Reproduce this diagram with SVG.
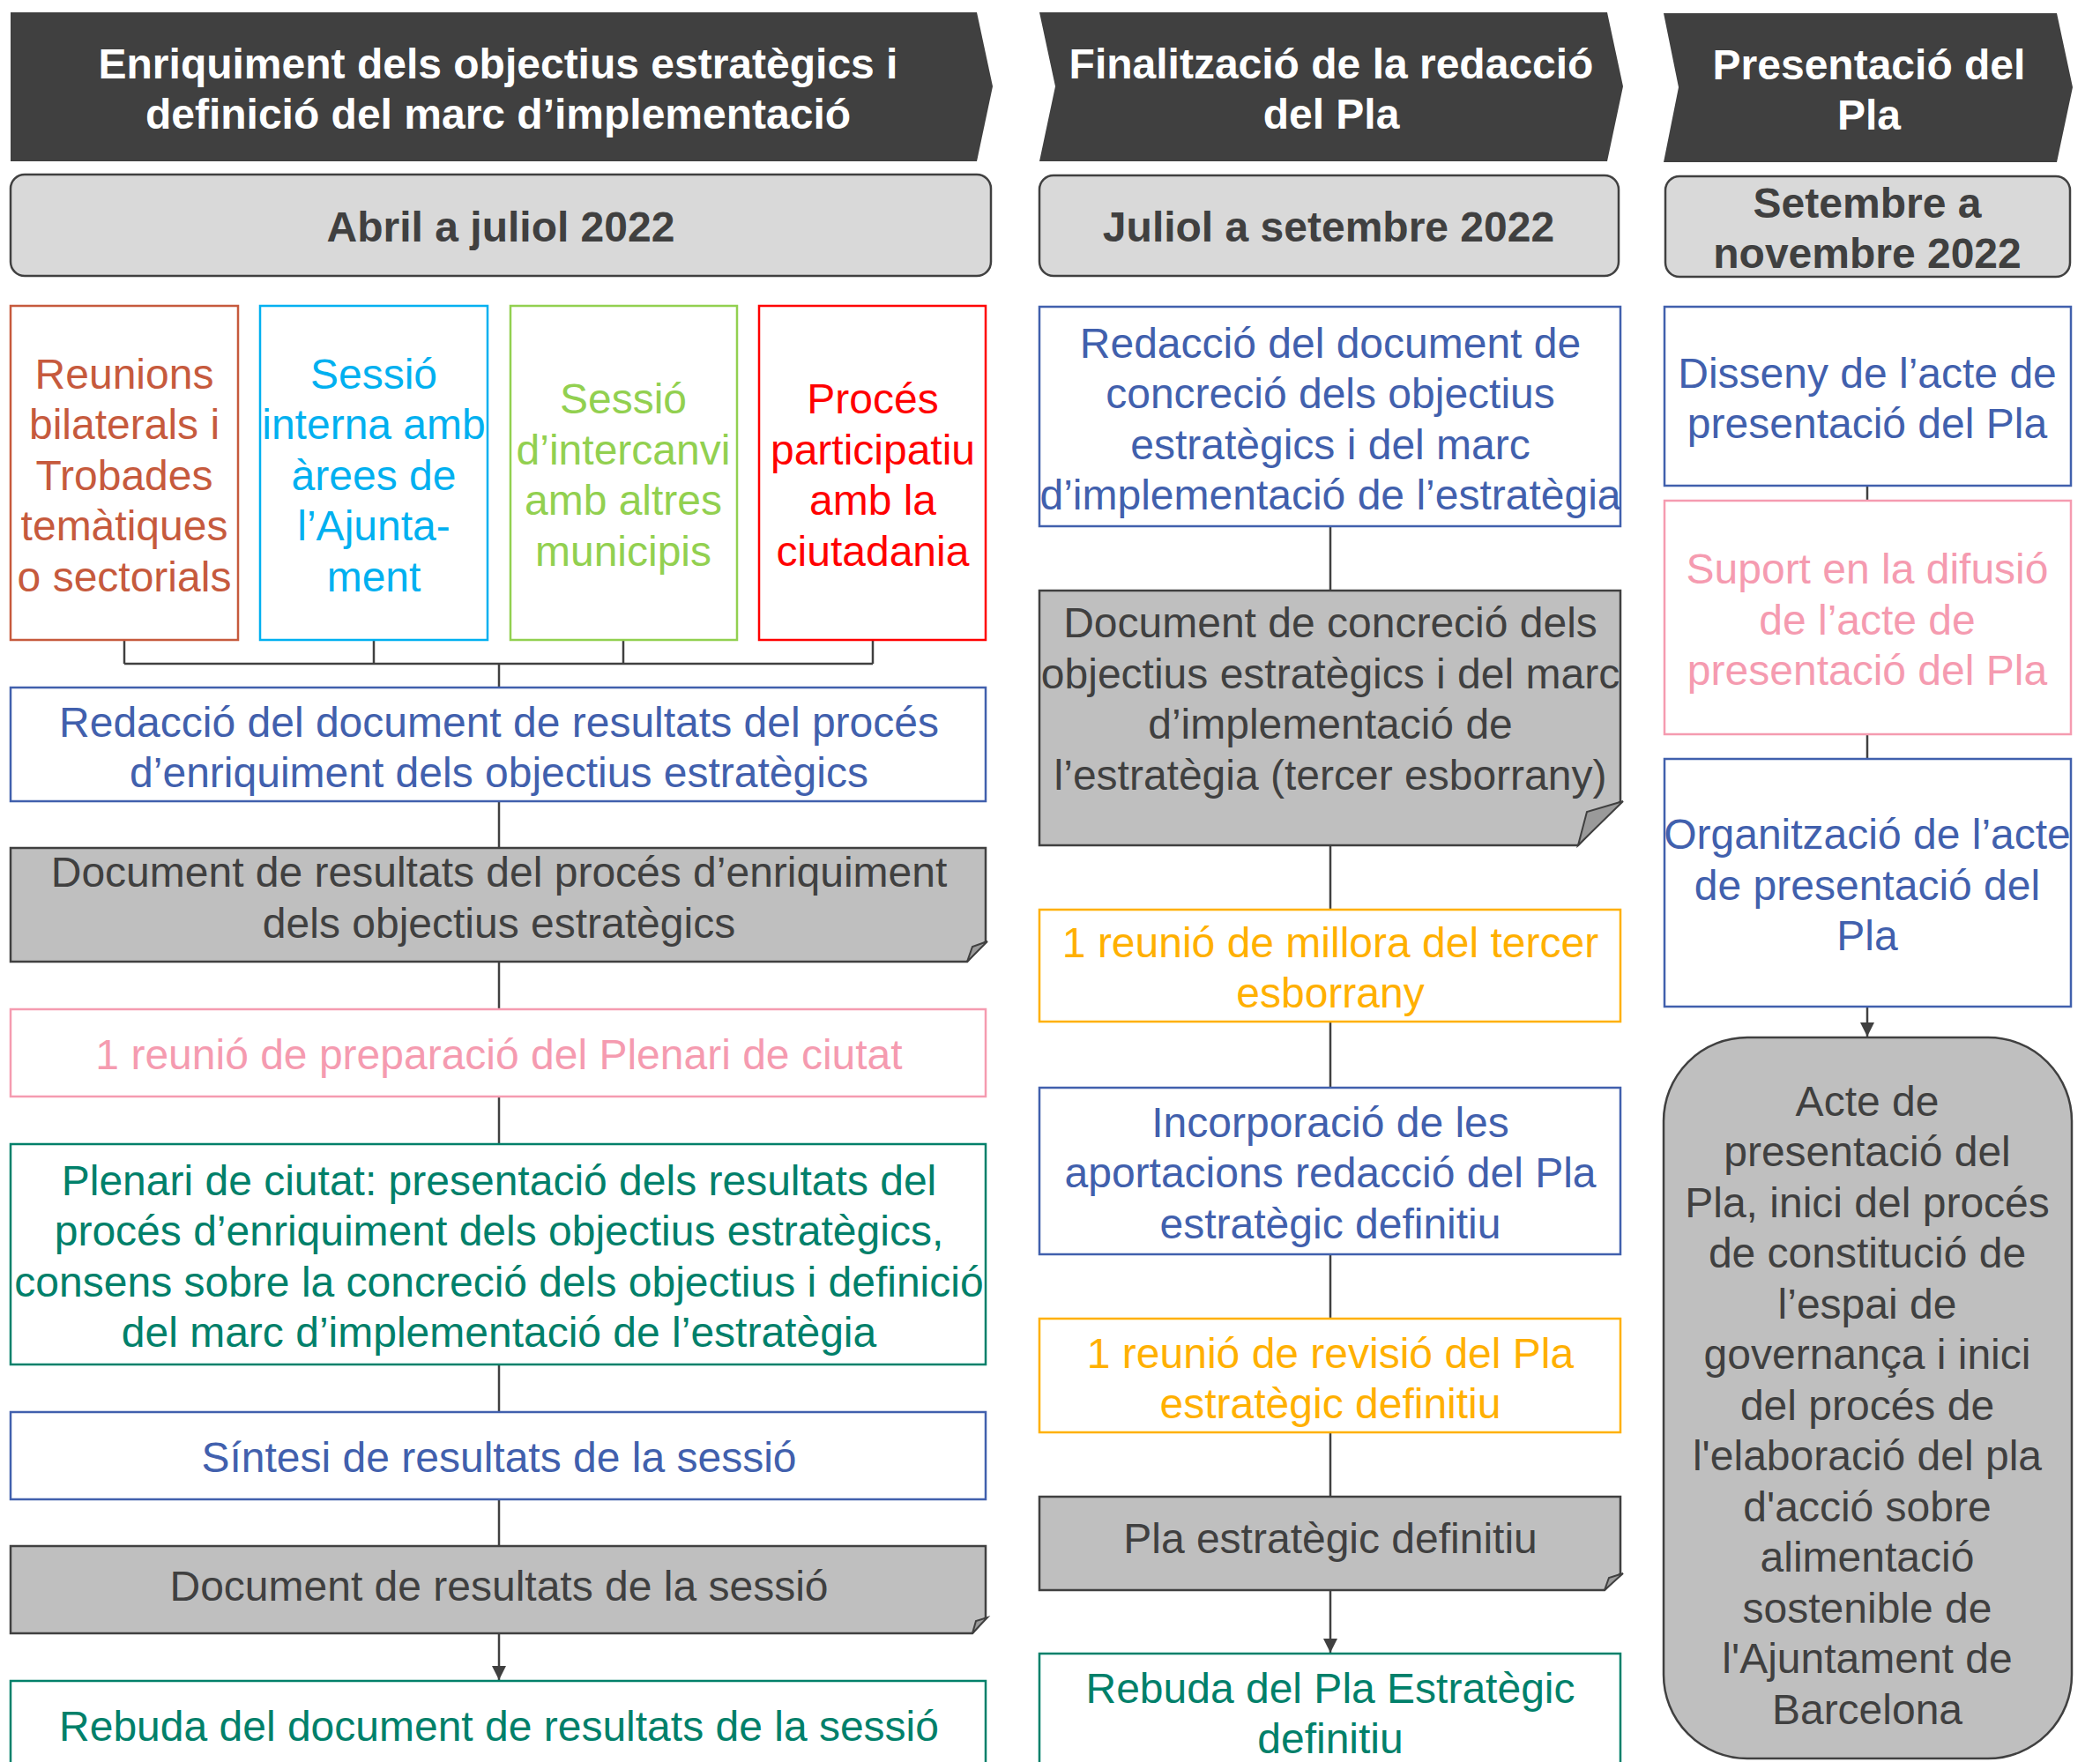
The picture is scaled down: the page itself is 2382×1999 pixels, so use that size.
<svg xmlns="http://www.w3.org/2000/svg" width="2382" height="1999" viewBox="0 0 2382 1999">
<style>
.t{font-family:"Liberation Sans",Arial,sans-serif;font-size:48px;text-anchor:middle;transform:translate(0px,2px)}
.b{font-weight:bold}
.w{fill:#FFFFFF}
.g{fill:#404040}
.hd{fill:#404040}
.date{fill:#D9D9D9;stroke:#404040;stroke-width:2.5}
.doc{fill:#BFBFBF;stroke:#404040;stroke-width:2.5}
.fold{fill:#9A9A9A;stroke:#404040;stroke-width:2}
.box{fill:#FFFFFF;stroke-width:2.5}
.c1{stroke:#C65A3D}.f1{fill:#C65A3D}
.c2{stroke:#00B0F0}.f2{fill:#00B0F0}
.c3{stroke:#92D050}.f3{fill:#92D050}
.c4{stroke:#FF0000}.f4{fill:#FF0000}
.cb{stroke:#4160AD}.fb{fill:#4160AD}
.cp{stroke:#F59BB0}.fp{fill:#F59BB0}
.ct{stroke:#00806A}.ft{fill:#00806A}
.co{stroke:#FFB000}.fo{fill:#FFB000}
.conn line,.conn path{stroke:#404040;stroke-width:2.5;fill:none}
</style>
<defs>
<marker id="arr" markerUnits="userSpaceOnUse" markerWidth="18" markerHeight="18" refX="16" refY="8" orient="auto">
<path d="M0,0 L16,8 L0,16 Z" fill="#404040"/>
</marker>
</defs>
<rect width="2382" height="1999" fill="#FFFFFF"/>

<g class="conn" id="connectors">
<line x1="141" y1="726" x2="141" y2="753"/>
<line x1="424" y1="726" x2="424" y2="753"/>
<line x1="707" y1="726" x2="707" y2="753"/>
<line x1="990" y1="726" x2="990" y2="753"/>
<line x1="141" y1="753" x2="990" y2="753"/>
<line x1="566" y1="753" x2="566" y2="780"/>
<line x1="566" y1="909" x2="566" y2="962"/>
<line x1="566" y1="1091" x2="566" y2="1145"/>
<line x1="566" y1="1244" x2="566" y2="1298"/>
<line x1="566" y1="1548" x2="566" y2="1602"/>
<line x1="566" y1="1701" x2="566" y2="1754"/>
<line x1="566" y1="1853" x2="566" y2="1906" marker-end="url(#arr)"/>
<line x1="1509" y1="597" x2="1509" y2="670"/>
<line x1="1509" y1="959" x2="1509" y2="1032"/>
<line x1="1509" y1="1159" x2="1509" y2="1234"/>
<line x1="1509" y1="1423" x2="1509" y2="1496"/>
<line x1="1509" y1="1625" x2="1509" y2="1698"/>
<line x1="1509" y1="1804" x2="1509" y2="1875" marker-end="url(#arr)"/>
<line x1="2118" y1="551" x2="2118" y2="568"/>
<line x1="2118" y1="833" x2="2118" y2="861"/>
<line x1="2118" y1="1142" x2="2118" y2="1176" marker-end="url(#arr)"/>
</g>

<g id="header1">
<polygon class="hd" points="12,14 1108,14 1126,98 1108,183 12,183"/>
<text class="t b w"><tspan x="565" y="87">Enriquiment dels objectius estratègics i</tspan><tspan x="565" y="144">definició del marc d’implementació</tspan></text>
</g>
<g id="header2">
<polygon class="hd" points="1179,14 1823,14 1841,98 1823,183 1179,183 1197,98"/>
<text class="t b w"><tspan x="1510" y="87">Finalització de la redacció</tspan><tspan x="1510" y="144">del Pla</tspan></text>
</g>
<g id="header3">
<polygon class="hd" points="1887,15 2333,15 2351,99 2333,184 1887,184 1904,99"/>
<text class="t b w"><tspan x="2120" y="88">Presentació del</tspan><tspan x="2120" y="145">Pla</tspan></text>
</g>

<g id="date1">
<rect class="date" x="12" y="198" width="1112" height="115" rx="16"/>
<text class="t b g" x="568" y="272">Abril a juliol 2022</text>
</g>
<g id="date2">
<rect class="date" x="1179" y="199" width="657" height="114" rx="16"/>
<text class="t b g" x="1507" y="272">Juliol a setembre 2022</text>
</g>
<g id="date3">
<rect class="date" x="1889" y="200" width="459" height="114" rx="16"/>
<text class="t b g"><tspan x="2118" y="245">Setembre a</tspan><tspan x="2118" y="302">novembre 2022</tspan></text>
</g>

<g id="reunions">
<rect class="box c1" x="12" y="347" width="258" height="379"/>
<text class="t f1"><tspan x="141" y="439">Reunions</tspan><tspan x="141" y="496">bilaterals i</tspan><tspan x="141" y="554">Trobades</tspan><tspan x="141" y="611">temàtiques</tspan><tspan x="141" y="669">o sectorials</tspan></text>
</g>
<g id="sessio-interna">
<rect class="box c2" x="295" y="347" width="258" height="379"/>
<text class="t f2"><tspan x="424" y="439">Sessió</tspan><tspan x="424" y="496">interna amb</tspan><tspan x="424" y="554">àrees de</tspan><tspan x="424" y="611">l’Ajunta-</tspan><tspan x="424" y="669">ment</tspan></text>
</g>
<g id="sessio-intercanvi">
<rect class="box c3" x="579" y="347" width="257" height="379"/>
<text class="t f3"><tspan x="707" y="467">Sessió</tspan><tspan x="707" y="525">d’intercanvi</tspan><tspan x="707" y="582">amb altres</tspan><tspan x="707" y="640">municipis</tspan></text>
</g>
<g id="proces-participatiu">
<rect class="box c4" x="861" y="347" width="257" height="379"/>
<text class="t f4"><tspan x="990" y="467">Procés</tspan><tspan x="990" y="525">participatiu</tspan><tspan x="990" y="582">amb la</tspan><tspan x="990" y="640">ciutadania</tspan></text>
</g>

<g id="redaccio-resultats">
<rect class="box cb" x="12" y="780" width="1106" height="129"/>
<text class="t fb"><tspan x="566" y="834">Redacció del document de resultats del procés</tspan><tspan x="566" y="891">d’enriquiment dels objectius estratègics</tspan></text>
</g>
<g id="doc-resultats">
<path class="doc" d="M12,962 H1118 V1068 L1097,1091 H12 Z"/>
<path class="fold" d="M1097,1091 L1103,1074 L1120,1068 Z"/>
<text class="t g"><tspan x="566" y="1004">Document de resultats del procés d’enriquiment</tspan><tspan x="566" y="1062">dels objectius estratègics</tspan></text>
</g>
<g id="reunio-preparacio">
<rect class="box cp" x="12" y="1145" width="1106" height="99"/>
<text class="t fp" x="566" y="1211">1 reunió de preparació del Plenari de ciutat</text>
</g>
<g id="plenari">
<rect class="box ct" x="12" y="1298" width="1106" height="250"/>
<text class="t ft"><tspan x="566" y="1354">Plenari de ciutat: presentació dels resultats del</tspan><tspan x="566" y="1411">procés d’enriquiment dels objectius estratègics,</tspan><tspan x="566" y="1469">consens sobre la concreció dels objectius i definició</tspan><tspan x="566" y="1526">del marc d’implementació de l’estratègia</tspan></text>
</g>
<g id="sintesi">
<rect class="box cb" x="12" y="1602" width="1106" height="99"/>
<text class="t fb" x="566" y="1668">Síntesi de resultats de la sessió</text>
</g>
<g id="doc-sessio">
<path class="doc" d="M12,1754 H1118 V1835 L1103,1853 H12 Z"/>
<path class="fold" d="M1103,1853 L1107,1839 L1120,1835 Z"/>
<text class="t g" x="566" y="1814">Document de resultats de la sessió</text>
</g>
<g id="rebuda-sessio">
<rect class="box ct" x="12" y="1907" width="1106" height="120"/>
<text class="t ft" x="566" y="1973">Rebuda del document de resultats de la sessió</text>
</g>

<g id="redaccio-concrecio">
<rect class="box cb" x="1179" y="348" width="659" height="249"/>
<text class="t fb"><tspan x="1509" y="404">Redacció del document de</tspan><tspan x="1509" y="461">concreció dels objectius</tspan><tspan x="1509" y="519">estratègics i del marc</tspan><tspan x="1509" y="576">d’implementació de l’estratègia</tspan></text>
</g>
<g id="doc-concrecio">
<path class="doc" d="M1179,670 H1838 V909 L1790,959 H1179 Z"/>
<path class="fold" d="M1790,959 L1800,921 L1841,909 Z"/>
<text class="t g"><tspan x="1509" y="721">Document de concreció dels</tspan><tspan x="1509" y="779">objectius estratègics i del marc</tspan><tspan x="1509" y="836">d’implementació de</tspan><tspan x="1509" y="894">l’estratègia (tercer esborrany)</tspan></text>
</g>
<g id="reunio-millora">
<rect class="box co" x="1179" y="1032" width="659" height="127"/>
<text class="t fo"><tspan x="1509" y="1084">1 reunió de millora del tercer</tspan><tspan x="1509" y="1141">esborrany</tspan></text>
</g>
<g id="incorporacio">
<rect class="box cb" x="1179" y="1234" width="659" height="189"/>
<text class="t fb"><tspan x="1509" y="1288">Incorporació de les</tspan><tspan x="1509" y="1345">aportacions redacció del Pla</tspan><tspan x="1509" y="1403">estratègic definitiu</tspan></text>
</g>
<g id="reunio-revisio">
<rect class="box co" x="1179" y="1496" width="659" height="129"/>
<text class="t fo"><tspan x="1509" y="1550">1 reunió de revisió del Pla</tspan><tspan x="1509" y="1607">estratègic definitiu</tspan></text>
</g>
<g id="pla-definitiu">
<path class="doc" d="M1179,1698 H1838 V1785 L1820,1804 H1179 Z"/>
<path class="fold" d="M1820,1804 L1825,1790 L1841,1785 Z"/>
<text class="t g" x="1509" y="1760">Pla estratègic definitiu</text>
</g>
<g id="rebuda-pla">
<rect class="box ct" x="1179" y="1876" width="659" height="150"/>
<text class="t ft"><tspan x="1509" y="1930">Rebuda del Pla Estratègic</tspan><tspan x="1509" y="1987">definitiu</tspan></text>
</g>

<g id="disseny">
<rect class="box cb" x="1888" y="348" width="461" height="203"/>
<text class="t fb"><tspan x="2118" y="438">Disseny de l’acte de</tspan><tspan x="2118" y="495">presentació del Pla</tspan></text>
</g>
<g id="suport">
<rect class="box cp" x="1888" y="568" width="461" height="265"/>
<text class="t fp"><tspan x="2118" y="660">Suport en la difusió</tspan><tspan x="2118" y="718">de l’acte de</tspan><tspan x="2118" y="775">presentació del Pla</tspan></text>
</g>
<g id="organitzacio">
<rect class="box cb" x="1888" y="861" width="461" height="281"/>
<text class="t fb"><tspan x="2118" y="961">Organització de l’acte</tspan><tspan x="2118" y="1019">de presentació del</tspan><tspan x="2118" y="1076">Pla</tspan></text>
</g>
<g id="acte-presentacio">
<rect class="doc" x="1887" y="1177" width="463" height="818" rx="95"/>
<text class="t g"><tspan x="2118" y="1264">Acte de</tspan><tspan x="2118" y="1321">presentació del</tspan><tspan x="2118" y="1379">Pla, inici del procés</tspan><tspan x="2118" y="1436">de constitució de</tspan><tspan x="2118" y="1494">l’espai de</tspan><tspan x="2118" y="1551">governança i inici</tspan><tspan x="2118" y="1609">del procés de</tspan><tspan x="2118" y="1666">l'elaboració del pla</tspan><tspan x="2118" y="1724">d'acció sobre</tspan><tspan x="2118" y="1781">alimentació</tspan><tspan x="2118" y="1839">sostenible de</tspan><tspan x="2118" y="1896">l'Ajuntament de</tspan><tspan x="2118" y="1954">Barcelona</tspan></text>
</g>
</svg>
